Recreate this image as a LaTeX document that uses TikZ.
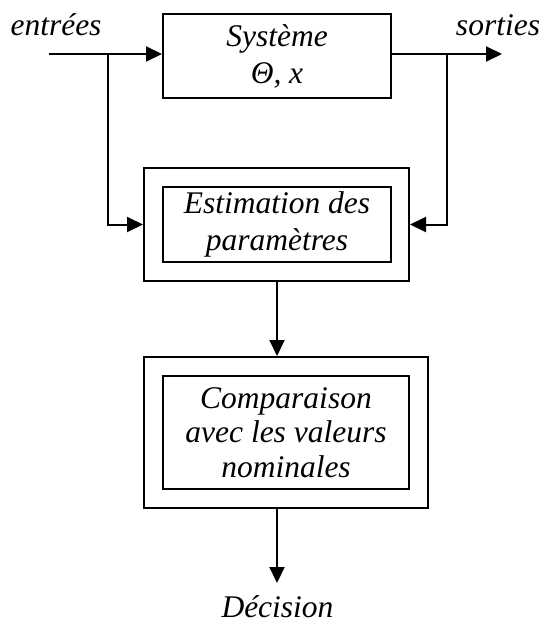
\documentclass[tikz,border=0pt]{standalone}
\usepackage{fontspec}
\setmainfont{Liberation Serif}
\usetikzlibrary{arrows.meta}
\begin{document}
\begin{tikzpicture}[x=1pt,y=-1pt,
  every node/.style={font=\fontsize{31.5}{37}\selectfont\itshape},
  blockbox/.style={draw,line width=2pt,inner sep=0pt,align=center,
    minimum width=#1},
  frame/.style={draw,line width=2pt,inner sep=0pt},
  label/.style={inner sep=0pt,anchor=base},
  link/.style={line width=2pt,-{Triangle[length=16pt,width=15pt]}}]
\useasboundingbox (0,0) rectangle (542,624);

% system block
\node[blockbox=228pt,minimum height=84pt] (sys) at (277,56) {Système\\Θ, x};

% parameter estimation block (double frame)
\node[frame,minimum width=265pt,minimum height=113pt] (est) at (276.5,224.5) {};
\node[blockbox=228pt,minimum height=75pt] (estin) at (277,224.5) {Estimation des\\paramètres};

% comparison block (double frame)
\node[frame,minimum width=284pt,minimum height=151pt] (cmp) at (286,432.5) {};
\node[blockbox=246pt,minimum height=113pt,
  font=\fontsize{31.5}{34.5}\selectfont\itshape] (cmpin) at (286,432.5)
  {Comparaison\\avec les valeurs\\nominales};

% labels
\node[label] (inlab) at (56,35) {entrées};
\node[label] (outlab) at (498,35) {sorties};
\node[label] (dec) at (277.5,617) {Décision};

% connectors
\coordinate (src) at (49,54);
\coordinate (snk) at (502,54);
\coordinate (b1) at (107.5,54);
\coordinate (b2) at (447,54);
\coordinate (dectop) at (277,583);

\draw[link] (src) -- (sys.west |- src);
\draw[link] (sys.east |- snk) -- (snk);
\draw[link] (b1) |- (est.west);
\draw[link] (b2) |- (est.east);
\draw[link] (est.south -| dectop) -- (cmp.north -| dectop);
\draw[link] (cmp.south -| dectop) -- (dectop);
\end{tikzpicture}
\end{document}
